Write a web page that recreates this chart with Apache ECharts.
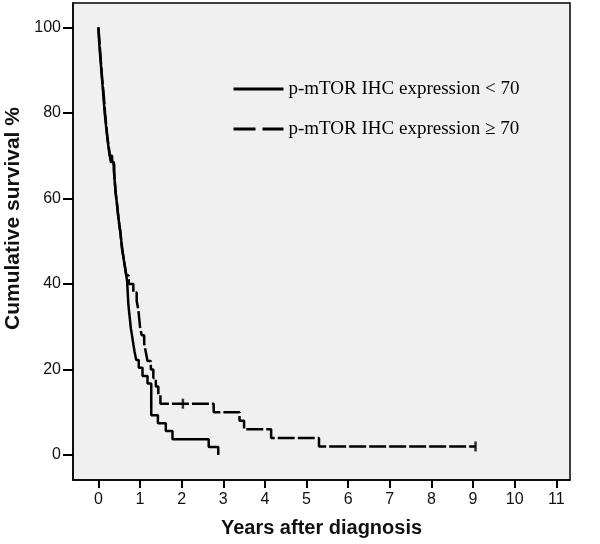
<!DOCTYPE html>
<html>
<head>
<meta charset="utf-8">
<script src="https://cdn.jsdelivr.net/npm/echarts@6/dist/echarts.min.js"></script>
<style>html,body{margin:0;padding:0;background:#fff;}#c{width:600px;height:544px;}</style>
</head>
<body>
<div id="c"></div>
<script>
// Group: p-mTOR IHC expression < 70 (solid)
var timesLow = [0, 0.01, 0.02, 0.035, 0.05, 0.065, 0.08, 0.095, 0.11, 0.125, 0.14, 0.155, 0.175, 0.195, 0.215, 0.24, 0.265, 0.30, 0.37, 0.385, 0.40, 0.415, 0.44, 0.46, 0.48, 0.505, 0.53, 0.55, 0.57, 0.60, 0.63, 0.66, 0.69, 0.70, 0.71, 0.72, 0.74, 0.76, 0.78, 0.81, 0.84, 0.87, 0.91, 0.97, 1.06, 1.18, 1.27, 1.43, 1.62, 1.78, 2.65, 2.88];
var survLow  = [100, 98.1, 96.3, 94.4, 92.6, 90.7, 88.9, 87.0, 85.2, 83.3, 81.5, 79.6, 77.8, 75.9, 74.1, 72.2, 70.4, 68.5, 66.7, 64.8, 63.0, 61.1, 59.3, 57.4, 55.6, 53.7, 51.9, 50.0, 48.1, 46.3, 44.4, 42.6, 40.7, 38.9, 37.0, 35.2, 33.3, 31.5, 29.6, 27.8, 25.9, 24.1, 22.2, 20.4, 18.5, 16.7, 9.3, 7.4, 5.6, 3.7, 1.85, 0];
// Group: p-mTOR IHC expression >= 70 (dashed)
var timesHigh = [0, 0.015, 0.03, 0.045, 0.06, 0.075, 0.09, 0.11, 0.13, 0.145, 0.16, 0.18, 0.20, 0.22, 0.25, 0.275, 0.33, 0.38, 0.395, 0.41, 0.43, 0.455, 0.475, 0.50, 0.53, 0.55, 0.575, 0.605, 0.64, 0.67, 0.73, 0.84, 0.92, 0.96, 0.98, 1.00, 1.04, 1.10, 1.14, 1.18, 1.26, 1.32, 1.38, 1.44, 1.49, 2.77, 3.39, 3.50, 4.15, 5.30, 9.06];
var survHigh  = [100, 98, 96, 94, 92, 90, 88, 86, 84, 82, 80, 78, 76, 74, 72, 70, 68, 66, 64, 62, 60, 58, 56, 54, 52, 50, 48, 46, 44, 42, 40, 38, 36, 34, 32, 30, 28, 26, 24, 22, 20, 18, 16, 14, 12, 10, 8, 6, 4, 2, 2];
// Censored observations (dashed group)
var censorTimesHigh = [2.03, 9.06];
var censorSurvHigh  = [12, 2];

var xTicks = [0, 1, 2, 3, 4, 5, 6, 7, 8, 9, 10, 11];
var yTicks = [0, 20, 40, 60, 80, 100];
var seriesNames = ['p-mTOR IHC expression < 70', 'p-mTOR IHC expression \u2265 70'];

function pairs(xs, ys) { return xs.map(function (x, i) { return [x, ys[i]]; }); }

var chart = echarts.init(document.getElementById('c'), null, { renderer: 'canvas' });
var axisFont = { fontFamily: 'Liberation Sans, Arial, sans-serif', fontSize: 16, color: '#111' };
chart.setOption({
  backgroundColor: '#ffffff',
  animation: false,
  grid: { left: 73, top: 3, right: 30, bottom: 64, containLabel: false, outerBoundsMode: 'none', show: true, backgroundColor: '#f0f0f0', borderColor: '#000', borderWidth: 1.5 },
  legend: {
    left: 227, top: 74, orient: 'vertical',
    itemWidth: 50, itemHeight: 14, itemGap: 20, itemTextGap: 10,
    itemStyle: { opacity: 0 },
    textStyle: { fontFamily: 'Liberation Serif, Times New Roman, serif', fontSize: 19, color: '#000', lineHeight: 20 },
    data: [
      { name: seriesNames[0], lineStyle: { type: 'solid', width: 3 } },
      { name: seriesNames[1], lineStyle: { type: [22, 7], width: 3 } }
    ]
  },
  xAxis: {
    type: 'value', min: -0.61, max: 11.33,
    name: 'Years after diagnosis', nameLocation: 'middle', nameGap: 38,
    nameTextStyle: { fontFamily: 'Liberation Sans, Arial, sans-serif', fontSize: 20, fontWeight: 'bold', color: '#111' },
    axisLine: { show: true, onZero: false, lineStyle: { color: '#000', width: 1.5 } },
    axisTick: { show: true, inside: false, length: 8, customValues: xTicks, lineStyle: { color: '#000', width: 2 } },
    axisLabel: Object.assign({ customValues: xTicks, margin: 12 }, axisFont),
    splitLine: { show: false }
  },
  yAxis: {
    type: 'value', min: -5.85, max: 105.7,
    name: 'Cumulative survival %', nameLocation: 'middle', nameGap: 45,
    nameTextStyle: { fontFamily: 'Liberation Sans, Arial, sans-serif', fontSize: 21, fontWeight: 'bold', color: '#111', padding: [0, 0, 0, 46] },
    axisLine: { show: true, onZero: false, lineStyle: { color: '#000', width: 1.5 } },
    axisTick: { show: true, inside: false, length: 10, customValues: yTicks, lineStyle: { color: '#000', width: 2 } },
    axisLabel: Object.assign({ customValues: yTicks, margin: 12 }, axisFont),
    splitLine: { show: false }
  },
  series: [
    {
      name: seriesNames[1], type: 'line', step: 'end', symbol: 'none',
      data: pairs(timesHigh, survHigh),
      lineStyle: { color: '#000', width: 2.5, type: [17, 3] }, itemStyle: { color: '#000' }, z: 2
    },
    {
      name: seriesNames[0], type: 'line', step: 'end', symbol: 'none',
      data: pairs(timesLow, survLow),
      lineStyle: { color: '#000', width: 2.5, type: 'solid' }, itemStyle: { color: '#000' }, z: 3
    },
    {
      name: 'censored', type: 'scatter', symbol: 'rect', symbolSize: [2.5, 10],
      data: pairs(censorTimesHigh, censorSurvHigh),
      itemStyle: { color: '#000' }, z: 4, silent: true
    }
  ]
});
</script>
</body>
</html>
